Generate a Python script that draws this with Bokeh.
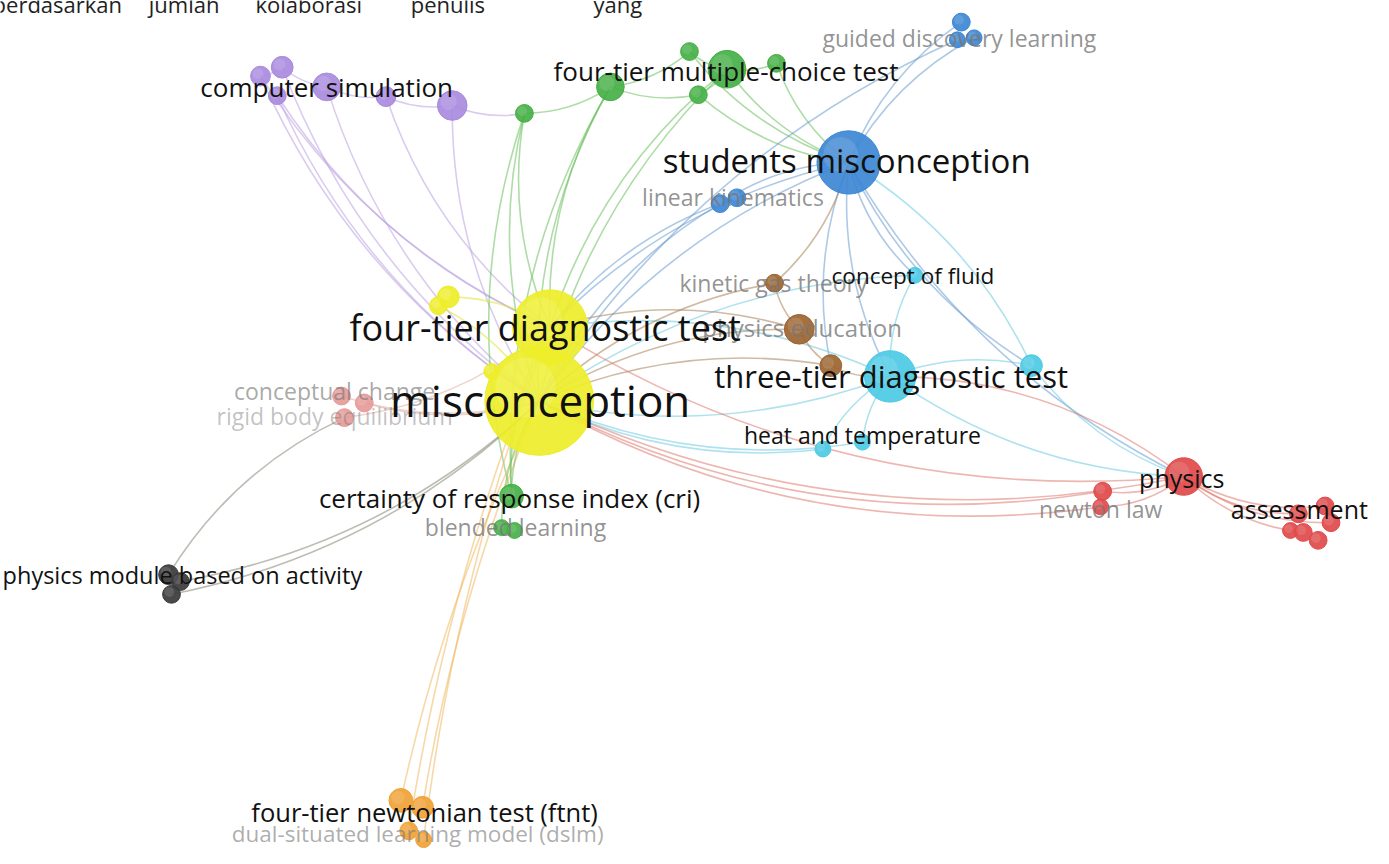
from bokeh.plotting import figure
from bokeh.models import Range1d, ColumnDataSource
from bokeh.core.properties import value
from bokeh.embed import file_html
from bokeh.resources import INLINE

# ---------------- data: VOSviewer map layout (reference pixel coords) ----------------
node_x = [545, 556, 453, 443, 497,
          735, 617, 697, 785, 706, 530, 517, 507, 520,
          263, 285, 280, 330, 390, 457,
          858, 728, 745, 972, 985, 968,
          900, 925, 832, 872, 1043,
          783, 808, 840,
          1197, 1115, 1113, 1313, 1340, 1318, 1346, 1333, 1305,
          345, 368, 348,
          170, 182, 173,
          405, 427, 413, 428]
node_y = [408, 333, 302, 311, 378,
          70, 88, 52, 64, 96, 115, 505, 537, 540,
          77, 68, 97, 88, 98, 107,
          165, 207, 201, 22, 38, 40,
          383, 280, 457, 450, 372,
          288, 335, 372,
          485, 500, 516, 523, 515, 542, 532, 550, 540,
          403, 410, 425,
          585, 592, 605,
          815, 822, 846, 855]
node_r = [55, 38, 11, 9, 8,
          19, 14, 9, 9, 9, 9, 12, 8, 8,
          10, 11, 9, 14, 10, 15,
          32, 9, 9, 9, 8, 8,
          26, 8, 8, 8, 11,
          9, 15, 11,
          19, 9, 8, 9, 9, 9, 9, 9, 8,
          9, 9, 9,
          10, 9, 9,
          12, 11, 9, 8]
node_cluster = (["yellow"] * 5 + ["green"] * 9 + ["purple"] * 6 + ["blue"] * 6 +
                ["cyan"] * 5 + ["brown"] * 3 + ["red"] * 9 + ["pink"] * 3 +
                ["black"] * 3 + ["orange"] * 4)

cluster_color = {"yellow": "#eeee2a", "green": "#45b045", "purple": "#a98ade",
                 "blue": "#3d87d4", "cyan": "#4ccae4", "brown": "#9c6430",
                 "red": "#e04a4a", "pink": "#e69a98", "black": "#3a3a3a",
                 "orange": "#f0a236"}
cluster_edge = {"yellow": "#e2e23a", "green": "#6cbf5c", "purple": "#bba3e0",
                "blue": "#6a9cd0", "cyan": "#6ccbe0", "brown": "#a8825a",
                "red": "#de7a70", "pink": "#e0b0a8", "black": "#868676",
                "orange": "#f0b860"}
cluster_bend = {"orange": 0.06, "red": 0.17}

# edges: from, to, colour taken from cluster of node edge_col
edge_src = [14, 15, 16, 17, 18, 19, 14, 15, 17, 18, 19, 16, 14,
            10, 6, 6, 7, 9, 5, 10, 6, 6, 10, 5, 5, 9, 7, 8, 5, 6, 10,
            20, 20, 20, 20, 20, 20, 20, 23, 24, 25, 21, 22, 20,
            0, 26, 26, 26, 26, 27, 30, 30, 0, 0, 27, 30,
            31, 32, 31, 32, 32, 33, 33, 31,
            0, 1, 0, 0, 35, 34, 34, 34, 34, 36, 34,
            43, 44, 45,
            45, 47, 48,
            0, 0, 1, 1,
            1, 1, 0, 0, 0, 1, 0]
edge_dst = [0, 0, 1, 0, 1, 0, 15, 17, 18, 19, 10, 0, 1,
            6, 7, 9, 5, 5, 8, 0, 0, 1, 1, 0, 20, 20, 20, 20, 1, 11, 11,
            0, 1, 21, 26, 27, 34, 30, 20, 20, 0, 0, 1, 33,
            26, 1, 28, 29, 34, 26, 26, 34, 28, 29, 0, 20,
            32, 33, 0, 0, 1, 26, 0, 20,
            34, 34, 35, 36, 34, 37, 38, 39, 40, 34, 26,
            0, 0, 1,
            46, 0, 0,
            49, 50, 51, 52,
            0, 2, 3, 4, 11, 11, 12]
edge_col = [14, 15, 16, 17, 18, 19, 14, 15, 17, 18, 19, 16, 14,
            10, 6, 6, 7, 9, 5, 10, 6, 6, 10, 5, 5, 9, 7, 8, 5, 6, 10,
            20, 20, 20, 20, 20, 20, 20, 23, 24, 25, 21, 22, 20,
            26, 26, 26, 26, 26, 27, 30, 30, 28, 29, 27, 30,
            31, 32, 31, 32, 32, 33, 33, 31,
            34, 34, 35, 36, 35, 34, 34, 34, 34, 36, 34,
            43, 44, 45,
            46, 47, 48,
            49, 50, 51, 52,
            1, 2, 3, 4, 11, 11, 12]

label_text = ["computer simulation", "four-tier multiple-choice test",
              "guided discovery learning", "students misconception",
              "linear kinematics", "kinetic gas theory", "concept of fluid",
              "physics education", "four-tier diagnostic test",
              "conceptual change", "rigid body equilibrium", "misconception",
              "three-tier diagnostic test", "heat and temperature",
              "physics", "newton law", "assessment",
              "blended learning", "certainty of response index (cri)",
              "physics module based on activity",
              "dual-situated learning model (dslm)",
              "four-tier newtonian test (ftnt)"]
label_x = [330, 734, 970, 856, 741, 782, 923, 811, 551, 338, 338, 546, 901, 872,
           1195, 1113, 1314, 521, 515, 184, 422, 429]
label_y = [88, 72, 38, 163, 200, 288, 280, 333, 333, 398, 423, 407, 383, 443,
           487, 518, 518, 536, 507, 585, 849, 827]
label_size = [26, 26, 23, 33, 23, 23, 22.5, 24, 36, 23, 23, 44, 31, 23,
              25, 23, 25, 23, 26, 23.5, 22.5, 25.5]
label_weight = [1, 1, 0.5, 1, 0.5, 0.5, 1, 0.5, 1, 0.35, 0.15, 1, 1, 1,
                1, 0.5, 1, 0.5, 1, 1, 0.3, 1]

header_words = ["berdasarkan", "jumlah", "kolaborasi", "penulis", "yang"]
header_x = [-8, 150, 258, 415, 600]

# ---------------- figure ----------------
W, H = 1373, 848
REF_W, REF_H = 1389, 864
p = figure(width=W, height=H, x_range=Range1d(0, REF_W), y_range=Range1d(REF_H, 0),
           output_backend="svg", toolbar_location=None, min_border=0,
           outline_line_color=None, background_fill_color="white")
p.axis.visible = False
p.grid.visible = False

# edges (quadratic curves)
ex0, ey0, ex1, ey1, ecx, ecy, ecol = [], [], [], [], [], [], []
for s, d, c in zip(edge_src, edge_dst, edge_col):
    x0, y0, x1, y1 = node_x[s], node_y[s], node_x[d], node_y[d]
    k = cluster_bend.get(node_cluster[c], 0.15)
    ex0.append(x0); ey0.append(y0); ex1.append(x1); ey1.append(y1)
    ecx.append((x0 + x1) / 2 - k * (y1 - y0))
    ecy.append((y0 + y1) / 2 + k * (x1 - x0))
    ecol.append(cluster_edge[node_cluster[c]])
esrc = ColumnDataSource(dict(x0=ex0, y0=ey0, x1=ex1, y1=ey1, cx=ecx, cy=ecy, c=ecol))
p.quadratic(x0="x0", y0="y0", x1="x1", y1="y1", cx="cx", cy="cy", source=esrc,
            line_color="c", line_alpha=0.55, line_width=1.6)

# nodes
order = sorted(range(len(node_x)), key=lambda i: node_r[i])
nsrc = ColumnDataSource(dict(
    x=[node_x[i] for i in order], y=[node_y[i] for i in order],
    r=[node_r[i] for i in order],
    hx=[node_x[i] - 0.25 * node_r[i] for i in order],
    hy=[node_y[i] - 0.25 * node_r[i] for i in order],
    hr=[0.55 * node_r[i] for i in order],
    c=[cluster_color[node_cluster[i]] for i in order]))
p.circle(x="x", y="y", radius="r", source=nsrc, fill_color="c", fill_alpha=0.92,
         line_color="c", line_alpha=1.0, line_width=1)
p.circle(x="hx", y="hy", radius="hr", source=nsrc, fill_color="white", fill_alpha=0.12,
         line_color=None)

# labels (faint first, then dark on top)
lorder = sorted(range(len(label_text)), key=lambda i: label_weight[i])
lsrc = ColumnDataSource(dict(
    x=[label_x[i] for i in lorder], y=[label_y[i] for i in lorder],
    t=[label_text[i] for i in lorder],
    s=["%.1fpx" % label_size[i] for i in lorder],
    c=["#111111" if label_weight[i] >= 1 else "#777777" for i in lorder],
    a=[1.0 if label_weight[i] >= 1 else label_weight[i] + 0.3 for i in lorder]))
p.text(x="x", y="y", text="t", source=lsrc, text_font=value("Open Sans"),
       text_font_size="s", text_color="c", text_alpha="a",
       text_align="center", text_baseline="middle")

# cut-off header line of the surrounding page
hsrc = ColumnDataSource(dict(x=header_x, y=[4] * len(header_x), t=header_words))
p.text(x="x", y="y", text="t", source=hsrc, text_font=value("Open Sans"),
       text_font_size="22px", text_color="#222222", text_align="left",
       text_baseline="alphabetic")

open("out.html", "w").write(file_html(p, INLINE))
